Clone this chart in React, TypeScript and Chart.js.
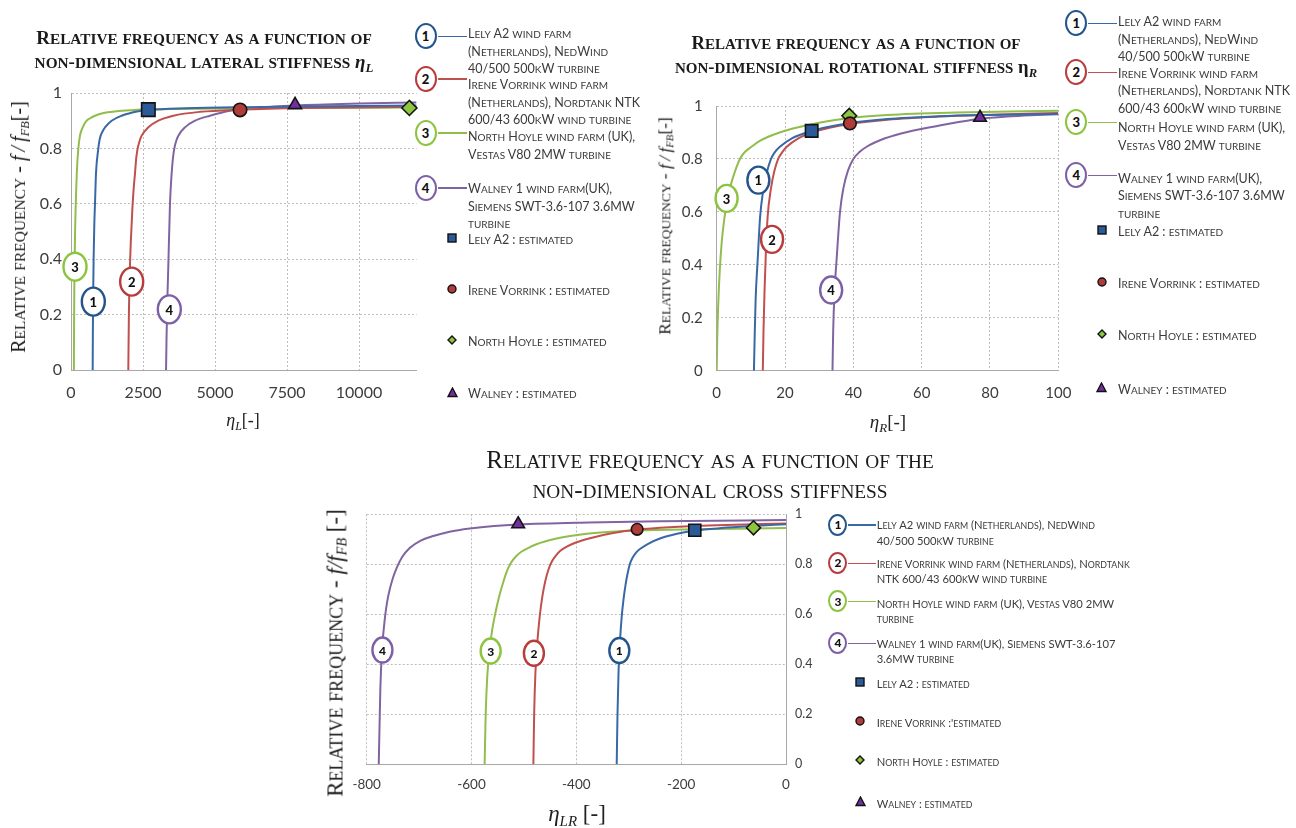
import React, { useEffect, useRef } from "react";
import { Chart, registerables } from "chart.js";

Chart.register(...registerables);

type Pt = [number, number];

/* ===================== DATA ===================== */
// Series order: 1 Lely A2, 2 Irene Vorrink, 3 North Hoyle, 4 Walney

// ---- Lateral stiffness ηL ----
const LAT_LELY: Pt[] = [[753, 0], [758, 0.12], [768, 0.25], [785, 0.4], [808, 0.52], [833, 0.6], [868, 0.71], [949, 0.8], [985, 0.826], [1030, 0.846], [1100, 0.862], [1181, 0.876], [1412, 0.9], [1759, 0.918], [2338, 0.934], [2700, 0.939], [4000, 0.945], [6000, 0.949], [9000, 0.952], [12000, 0.955]];
const LAT_IRENE: Pt[] = [[1990, 0], [2010, 0.2], [2040, 0.35], [2080, 0.47], [2130, 0.58], [2180, 0.66], [2222, 0.71], [2265, 0.765], [2315, 0.8], [2380, 0.826], [2453, 0.846], [2685, 0.876], [3032, 0.9], [3553, 0.918], [4479, 0.932], [5900, 0.94], [8000, 0.946], [12000, 0.95]];
const LAT_NORTH: Pt[] = [[100, 0], [106, 0.15], [115, 0.29], [127, 0.4], [142, 0.5], [160, 0.58], [180, 0.65], [205, 0.72], [255, 0.8], [312, 0.846], [405, 0.876], [544, 0.9], [650, 0.908], [833, 0.918], [1100, 0.927], [1586, 0.934], [2100, 0.938], [2700, 0.941], [6000, 0.945], [12000, 0.948]];
const LAT_WALNEY: Pt[] = [[3300, 0], [3318, 0.12], [3345, 0.25], [3380, 0.38], [3437, 0.6], [3495, 0.71], [3540, 0.765], [3588, 0.8], [3650, 0.826], [3727, 0.846], [3958, 0.876], [4306, 0.9], [4826, 0.918], [5521, 0.936], [6500, 0.947], [7780, 0.955], [10000, 0.962], [12000, 0.966]];
const LAT_ESTIMATED: Pt[] = [[2685, 0.94], [5870, 0.939], [11750, 0.946], [7780, 0.957]];
const LAT_RINGS: Pt[] = [[775, 0.247], [2107, 0.319], [139, 0.373], [3414, 0.219]];
const LAT_X_RANGE = [0, 12000];
const LAT_X_TICKS = [0, 2500, 5000, 7500, 10000];

// ---- Rotational stiffness ηR ----
const ROT_LELY: Pt[] = [[10.9, 0], [11.1, 0.12], [11.4, 0.27], [12, 0.42], [12.7, 0.58], [13.6, 0.68], [14.6, 0.745], [15.9, 0.8], [17.1, 0.827], [18.5, 0.846], [22, 0.878], [27.8, 0.906], [32.5, 0.921], [38.5, 0.935], [50, 0.951], [65, 0.961], [80, 0.966], [100, 0.97]];
const ROT_IRENE: Pt[] = [[13.5, 0], [13.7, 0.15], [14, 0.3], [14.4, 0.45], [14.9, 0.58], [15.9, 0.69], [16.9, 0.755], [18, 0.8], [19.2, 0.826], [20.5, 0.846], [23.9, 0.878], [28.3, 0.902], [33, 0.918], [39, 0.932], [50, 0.948], [65, 0.96], [80, 0.967], [100, 0.974]];
const ROT_NORTH: Pt[] = [[0, 0], [0.15, 0.12], [0.45, 0.25], [0.9, 0.38], [1.5, 0.49], [2.3, 0.58], [3.2, 0.65], [4.2, 0.705], [5.4, 0.755], [6.8, 0.8], [8.3, 0.827], [10.2, 0.846], [12.5, 0.867], [15.1, 0.884], [22, 0.914], [30, 0.937], [38.8, 0.955], [50, 0.966], [70, 0.975], [100, 0.982]];
const ROT_WALNEY: Pt[] = [[33.9, 0], [34.1, 0.15], [34.5, 0.3], [35.1, 0.42], [36.1, 0.6], [37.1, 0.69], [38.4, 0.755], [40, 0.8], [41.8, 0.826], [43.9, 0.846], [49.3, 0.878], [56.1, 0.903], [66, 0.928], [77.1, 0.952], [85, 0.96], [92, 0.965], [100, 0.969]];
const ROT_ESTIMATED: Pt[] = [[27.8, 0.906], [39, 0.934], [38.8, 0.963], [77.1, 0.956]];
const ROT_RINGS: Pt[] = [[12.2, 0.72], [16.2, 0.496], [2.9, 0.651], [33.5, 0.305]];
const ROT_X_RANGE = [0, 100];
const ROT_X_TICKS = [0, 20, 40, 60, 80, 100];

// ---- Cross stiffness ηLR ----
const CROSS_LELY: Pt[] = [[-323, 0], [-321.5, 0.2], [-319.5, 0.37], [-316.5, 0.5], [-313.5, 0.59], [-310, 0.66], [-306, 0.72], [-302, 0.765], [-298, 0.8], [-293, 0.825], [-286, 0.847], [-278, 0.862], [-263, 0.882], [-238, 0.905], [-208, 0.922], [-174, 0.935], [-123, 0.945], [-63, 0.953], [0, 0.96]];
const CROSS_IRENE: Pt[] = [[-482, 0], [-480.5, 0.2], [-478, 0.37], [-474, 0.5], [-470, 0.59], [-465, 0.67], [-459, 0.735], [-453, 0.78], [-447, 0.81], [-439, 0.835], [-430, 0.855], [-419, 0.87], [-402, 0.886], [-372, 0.905], [-330, 0.925], [-284, 0.938], [-222, 0.948], [-132, 0.956], [0, 0.963]];
const CROSS_NORTH: Pt[] = [[-575, 0], [-573, 0.2], [-570, 0.35], [-565, 0.47], [-560, 0.545], [-555, 0.6], [-548, 0.665], [-540, 0.725], [-533, 0.77], [-525, 0.805], [-515, 0.832], [-505, 0.85], [-495, 0.862], [-475, 0.881], [-444, 0.9], [-415, 0.912], [-380, 0.922], [-335, 0.93], [-285, 0.935], [-175, 0.94], [0, 0.945]];
const CROSS_WALNEY: Pt[] = [[-777, 0], [-774, 0.3], [-771, 0.45], [-765, 0.59], [-761, 0.65], [-756, 0.7], [-750, 0.745], [-743, 0.785], [-732, 0.83], [-718, 0.865], [-697, 0.895], [-673, 0.913], [-642, 0.93], [-603, 0.943], [-557, 0.953], [-511, 0.959], [-377, 0.967], [-240, 0.972], [0, 0.977]];
const CROSS_ESTIMATED: Pt[] = [[-174, 0.936], [-284, 0.94], [-62, 0.946], [-511, 0.961]];
const CROSS_RINGS: Pt[] = [[-318, 0.455], [-481, 0.444], [-563.5, 0.453], [-770, 0.457]];
const CROSS_X_RANGE = [-800, 0];
const CROSS_X_TICKS = [-800, -600, -400, -200, 0];

const Y_RANGE = [0, 1];
const Y_TICKS = [0, 0.2, 0.4, 0.6, 0.8, 1];

// ---- Legend texts ----
const LEGEND_NARROW: string[][] = [
  ["Lely A2 wind farm", "(Netherlands), NedWind", "40/500 500kW turbine"],
  ["Irene Vorrink wind farm", "(Netherlands), Nordtank NTK", "600/43 600kW wind turbine"],
  ["North Hoyle wind farm (UK),", "Vestas V80 2MW turbine"],
  ["Walney 1 wind farm(UK),", "Siemens SWT-3.6-107 3.6MW", "turbine"],
];
const LEGEND_WIDE: string[][] = [
  ["Lely A2 wind farm (Netherlands), NedWind", "40/500 500kW turbine"],
  ["Irene Vorrink wind farm (Netherlands), Nordtank", "NTK 600/43 600kW wind turbine"],
  ["North Hoyle wind farm (UK), Vestas V80 2MW", "turbine"],
  ["Walney 1 wind farm(UK), Siemens SWT-3.6-107", "3.6MW turbine"],
];
const EST_TEXTS = ["Lely A2 : estimated", "Irene Vorrink : estimated", "North Hoyle : estimated", "Walney : estimated"];
const EST_TEXTS_CROSS = ["Lely A2 : estimated", "Irene Vorrink :'estimated", "North Hoyle : estimated", "Walney : estimated"];

/* ===================== STYLE ===================== */
const W = 1296;
const H = 828;
const LINE_COLORS = ["#3868a6", "#c0504d", "#91bd4c", "#8064a2"];
const RING_COLORS = ["#24548c", "#b83c3c", "#8cc43f", "#7d5fa8"];
const MARKER_FILL = ["#2b5a98", "#b03c3a", "#8dc63f", "#7030a0"];
const MARKER_STYLE = ["rect", "circle", "rectRot", "triangle"];
const GRID = "#bdbdbd";
const AXIS = "#a8a8a8";
const TICK_COLOR = "#3c3c3c";
const SANS = "Lato, 'Open Sans', sans-serif";
const SERIF = "'Liberation Serif', 'Times New Roman', serif";

interface Spec {
  curves: Pt[][];
  est: Pt[];
  rings: Pt[];
  xRange: number[];
  xTicks: number[];
  rect: { l: number; t: number; r: number; b: number };
  yRight: boolean;
  xFont: number;
  yFont: number;
  xLabelY: number;
  yGap: number;
  markerR: number[];
  ringRx: number;
  ringRy: number;
  ringFont: number;
}

const LAT_SPEC: Spec = {
  curves: [LAT_LELY, LAT_IRENE, LAT_NORTH, LAT_WALNEY],
  est: LAT_ESTIMATED,
  rings: LAT_RINGS,
  xRange: LAT_X_RANGE,
  xTicks: LAT_X_TICKS,
  rect: { l: 71, t: 93, r: 416.6, b: 370 },
  yRight: false,
  xFont: 16,
  yFont: 16,
  xLabelY: 393,
  yGap: 9,
  markerR: [9.5, 6.7, 7.5, 7.5],
  ringRx: 11.5,
  ringRy: 14,
  ringFont: 13,
};
const ROT_SPEC: Spec = {
  curves: [ROT_LELY, ROT_IRENE, ROT_NORTH, ROT_WALNEY],
  est: ROT_ESTIMATED,
  rings: ROT_RINGS,
  xRange: ROT_X_RANGE,
  xTicks: ROT_X_TICKS,
  rect: { l: 716.7, t: 106, r: 1058.3, b: 370.7 },
  yRight: false,
  xFont: 15,
  yFont: 15,
  xLabelY: 393,
  yGap: 14,
  markerR: [8.8, 6.3, 7.3, 7.3],
  ringRx: 11,
  ringRy: 13.5,
  ringFont: 13,
};
const CROSS_SPEC: Spec = {
  curves: [CROSS_LELY, CROSS_IRENE, CROSS_NORTH, CROSS_WALNEY],
  est: CROSS_ESTIMATED,
  rings: CROSS_RINGS,
  xRange: CROSS_X_RANGE,
  xTicks: CROSS_X_TICKS,
  rect: { l: 366.7, t: 514.3, r: 786, b: 764.3 },
  yRight: true,
  xFont: 13.5,
  yFont: 12.5,
  xLabelY: 785,
  yGap: 9,
  markerR: [8.5, 5.8, 7, 7.3],
  ringRx: 10,
  ringRy: 12.5,
  ringFont: 12,
};

/* ===================== CHART ===================== */
function ChartCanvas({ spec }: { spec: Spec }) {
  const ref = useRef<HTMLCanvasElement>(null);
  useEffect(() => {
    const s = spec;
    const yW = 60;
    const xH = 40;
    const xLH = s.xFont * 1.2;
    const padding = s.yRight
      ? { left: s.rect.l, top: s.rect.t, right: W - s.rect.r - yW, bottom: H - s.rect.b - xH }
      : { left: s.rect.l - yW, top: s.rect.t, right: W - s.rect.r, bottom: H - s.rect.b - xH };

    const datasets: any[] = [];
    s.est.forEach((p, i) =>
      datasets.push({
        data: [{ x: p[0], y: p[1] }],
        showLine: false,
        pointStyle: MARKER_STYLE[i],
        pointRadius: s.markerR[i],
        pointBackgroundColor: MARKER_FILL[i],
        pointBorderColor: "#141414",
        pointBorderWidth: 1.6,
        clip: false,
      })
    );
    s.curves.forEach((c, i) =>
      datasets.push({
        data: c.map((p) => ({ x: p[0], y: p[1] })),
        showLine: true,
        pointRadius: 0,
        borderColor: LINE_COLORS[i],
        borderWidth: 2,
        cubicInterpolationMode: "monotone",
        fill: false,
      })
    );

    const ringPlugin = {
      id: "rings",
      afterDatasetsDraw(chart: any) {
        const { ctx } = chart;
        const xs = chart.scales.x;
        const ys = chart.scales.y;
        s.rings.forEach((p, i) => {
          const px = xs.getPixelForValue(p[0]);
          const py = ys.getPixelForValue(p[1]);
          ctx.save();
          ctx.beginPath();
          ctx.ellipse(px, py, s.ringRx, s.ringRy, 0, 0, Math.PI * 2);
          ctx.fillStyle = "#ffffff";
          ctx.fill();
          ctx.lineWidth = 2.4;
          ctx.strokeStyle = RING_COLORS[i];
          ctx.stroke();
          ctx.fillStyle = "#111";
          ctx.font = `900 ${s.ringFont}px Lato`;
          ctx.textAlign = "center";
          ctx.textBaseline = "middle";
          ctx.fillText(String(i + 1), px, py + 1);
          ctx.restore();
        });
      },
    };

    const chart = new Chart(ref.current as HTMLCanvasElement, {
      type: "scatter",
      data: { datasets },
      options: {
        animation: false,
        responsive: false,
        events: [],
        layout: { padding },
        plugins: { legend: { display: false }, tooltip: { enabled: false }, title: { display: false } },
        scales: {
          x: {
            type: "linear",
            min: s.xRange[0],
            max: s.xRange[1],
            afterFit: (sc: any) => {
              sc.height = xH;
            },
            afterBuildTicks: (sc: any) => {
              sc.ticks = s.xTicks.map((v) => ({ value: v }));
            },
            ticks: {
              autoSkip: false,
              maxRotation: 0,
              padding: s.xLabelY - s.rect.b - xLH / 2,
              color: TICK_COLOR,
              font: { family: SANS, size: s.xFont },
              callback: (v: any) => String(v),
            },
            grid: { color: GRID, lineWidth: 1, drawTicks: false },
            border: { display: true, color: AXIS, width: 1, dash: [2, 2] },
          },
          y: {
            type: "linear",
            position: s.yRight ? "right" : "left",
            min: Y_RANGE[0],
            max: Y_RANGE[1],
            afterFit: (sc: any) => {
              sc.width = yW;
            },
            afterBuildTicks: (sc: any) => {
              sc.ticks = Y_TICKS.map((v) => ({ value: v }));
            },
            ticks: {
              autoSkip: false,
              padding: s.yGap,
              color: TICK_COLOR,
              font: { family: SANS, size: s.yFont },
              callback: (v: any) => String(Math.round(Number(v) * 10) / 10),
            },
            grid: { color: GRID, lineWidth: 1, drawTicks: false },
            border: { display: true, color: AXIS, width: 1, dash: [2, 2] },
          },
        },
      } as any,
      plugins: [ringPlugin as any],
    });
    return () => chart.destroy();
  }, [spec]);
  return <canvas ref={ref} width={W} height={H} style={{ position: "absolute", left: 0, top: 0, width: W, height: H }} />;
}

/* ===================== TEXT HELPERS ===================== */
function SC({ t, big, small }: { t: string; big: number; small: number }) {
  const parts: [string, boolean][] = [];
  for (const ch of t) {
    const low = ch !== ch.toUpperCase();
    if (parts.length && parts[parts.length - 1][1] === low) parts[parts.length - 1][0] += ch;
    else parts.push([ch, low]);
  }
  return (
    <>
      {parts.map(([str, low], i) => (
        <span key={i} style={{ fontSize: low ? small : big }}>
          {low ? str.toUpperCase() : str}
        </span>
      ))}
    </>
  );
}

function At({ x, y, children, style, rot }: { x: number; y: number; children: any; style?: any; rot?: boolean }) {
  return (
    <div
      style={{
        position: "absolute",
        left: x,
        top: y,
        transform: rot ? "translate(-50%,-50%) rotate(-90deg)" : "translate(-50%,-50%)",
        whiteSpace: "nowrap",
        lineHeight: 1,
        ...style,
      }}
    >
      {children}
    </div>
  );
}

function Left({ x, y, children, style }: { x: number; y: number; children: any; style?: any }) {
  return (
    <div style={{ position: "absolute", left: x, top: y, transform: "translateY(-50%)", whiteSpace: "nowrap", lineHeight: 1, ...style }}>
      {children}
    </div>
  );
}

function Sub({ children, size }: { children: any; size: string }) {
  return <span style={{ fontSize: size, position: "relative", top: "0.3em" }}>{children}</span>;
}

function YTitle({ x, y, big, small, tight }: { x: number; y: number; big: number; small: number; tight?: boolean }) {
  return (
    <At x={x} y={y} rot style={{ fontFamily: SERIF, color: "#1a1a1a", fontSize: big }}>
      <SC t="Relative frequency" big={big} small={small} />
      <span> - </span>
      {tight ? (
        <i>f/f</i>
      ) : (
        <i>
          f{"\u2009"}/{"\u2009"}f
        </i>
      )}
      <Sub size="0.62em">
        <i>FB</i>
      </Sub>
      <span>{tight ? " [-]" : "[-]"}</span>
    </At>
  );
}

interface LegendLayout {
  ringX: number;
  ringYs: number[];
  rx: number;
  ry: number;
  textX: number;
  firstYs: number[];
  lh: number;
  big: number;
  small: number;
  blocks: string[][];
  markX: number;
  markYs: number[];
  markTexts: string[];
  ringFont: number;
}

function Marker({ i, size }: { i: number; size: number }) {
  const s = size;
  const c = MARKER_FILL[i];
  let shape: any;
  if (i === 0) shape = <rect x={1} y={1} width={s - 2} height={s - 2} fill={c} stroke="#111" strokeWidth={1.4} />;
  else if (i === 1) shape = <circle cx={s / 2} cy={s / 2} r={s / 2 - 1} fill={c} stroke="#111" strokeWidth={1.4} />;
  else if (i === 2) shape = <polygon points={`${s / 2},1 ${s - 1},${s / 2} ${s / 2},${s - 1} 1,${s / 2}`} fill={c} stroke="#111" strokeWidth={1.4} />;
  else shape = <polygon points={`${s / 2},1 ${s - 1},${s - 1.5} 1,${s - 1.5}`} fill={c} stroke="#111" strokeWidth={1.4} />;
  return (
    <svg width={s} height={s} style={{ display: "block" }}>
      {shape}
    </svg>
  );
}

function Legend({ L }: { L: LegendLayout }) {
  const items: any[] = [];
  L.blocks.forEach((lines, i) => {
    const ry = L.ringYs[i];
    items.push(
      <div
        key={"l" + i}
        style={{ position: "absolute", left: L.ringX + L.rx, top: ry - 0.6, width: L.textX - 1 - (L.ringX + L.rx), height: 1.3, background: LINE_COLORS[i] }}
      />
    );
    items.push(
      <div
        key={"r" + i}
        style={{
          position: "absolute",
          left: L.ringX - L.rx,
          top: ry - L.ry,
          width: L.rx * 2 - 4.8,
          height: L.ry * 2 - 4.8,
          border: `2.4px solid ${RING_COLORS[i]}`,
          borderRadius: "50%",
          background: "#fff",
          display: "flex",
          alignItems: "center",
          justifyContent: "center",
          fontFamily: SANS,
          fontWeight: 900,
          fontSize: L.ringFont,
          color: "#111",
        }}
      >
        {i + 1}
      </div>
    );
    lines.forEach((ln, j) =>
      items.push(
        <Left key={"t" + i + "_" + j} x={L.textX} y={L.firstYs[i] + j * L.lh} style={{ fontFamily: SANS, color: "#3a3a3a" }}>
          <SC t={ln} big={L.big} small={L.small} />
        </Left>
      )
    );
  });
  L.markTexts.forEach((t, i) => {
    const ms = i === 3 ? 11 : 10;
    items.push(
      <div key={"m" + i} style={{ position: "absolute", left: L.markX - ms / 2, top: L.markYs[i] - ms / 2 }}>
        <Marker i={i} size={ms} />
      </div>
    );
    items.push(
      <Left key={"mt" + i} x={L.textX} y={L.markYs[i]} style={{ fontFamily: SANS, color: "#3a3a3a" }}>
        <SC t={t} big={L.big} small={L.small} />
      </Left>
    );
  });
  return <>{items}</>;
}

const LAT_LEGEND: LegendLayout = {
  ringX: 426,
  ringYs: [36.7, 79, 133, 188],
  rx: 11.5,
  ry: 13.5,
  textX: 468,
  firstYs: [32, 83, 135, 187],
  lh: 17.6,
  big: 12.5,
  small: 10,
  blocks: LEGEND_NARROW,
  markX: 452,
  markYs: [238, 289, 340, 392],
  markTexts: EST_TEXTS,
  ringFont: 13,
};
const ROT_LEGEND: LegendLayout = {
  ringX: 1076.7,
  ringYs: [23.3, 72.3, 122.7, 175.7],
  rx: 11.5,
  ry: 13.5,
  textX: 1118,
  firstYs: [20, 71.7, 126, 176.7],
  lh: 17.6,
  big: 12.5,
  small: 10,
  blocks: LEGEND_NARROW,
  markX: 1101.7,
  markYs: [230, 282, 334, 387.7],
  markTexts: EST_TEXTS,
  ringFont: 13,
};
const CROSS_LEGEND: LegendLayout = {
  ringX: 838.3,
  ringYs: [525, 563.3, 601.7, 643.3],
  rx: 10,
  ry: 11.5,
  textX: 876.7,
  firstYs: [523.3, 561.7, 601.7, 641.7],
  lh: 15.4,
  big: 11.2,
  small: 8.8,
  blocks: LEGEND_WIDE,
  markX: 860,
  markYs: [681.7, 721, 760, 801.7],
  markTexts: EST_TEXTS_CROSS,
  ringFont: 12,
};

/* ===================== APP ===================== */
export default function App() {
  const boldTitle = { fontFamily: SERIF, fontWeight: 700, color: "#1a1a1a" };
  return (
    <div style={{ position: "absolute", left: 0, top: 0, width: W, height: H, background: "#fff", overflow: "hidden" }}>
      <ChartCanvas spec={LAT_SPEC} />
      <ChartCanvas spec={ROT_SPEC} />
      <ChartCanvas spec={CROSS_SPEC} />

      {/* Chart 1 titles */}
      <At x={204} y={37} style={boldTitle}>
        <SC t="Relative  frequency as a function of" big={19} small={15.3} />
      </At>
      <At x={204} y={61} style={boldTitle}>
        <SC t="non-dimensional lateral  stiffness " big={19} small={15.3} />
        <i style={{ fontSize: 19 }}>η</i>
        <Sub size="13px">
          <i>L</i>
        </Sub>
      </At>
      <YTitle x={18} y={227} big={20} small={15.5} />
      <At x={243} y={420} style={{ fontFamily: SERIF, fontSize: 18, color: "#222" }}>
        <i>η</i>
        <Sub size="12px">
          <i>L</i>
        </Sub>
        [-]
      </At>

      {/* Chart 2 titles */}
      <At x={856} y={43} style={boldTitle}>
        <SC t="Relative  frequency as a function of" big={18.6} small={15} />
      </At>
      <At x={856} y={67} style={boldTitle}>
        <SC t="non-dimensional rotational  stiffness " big={18.6} small={15} />
        <span style={{ fontSize: 18.6 }}>η</span>
        <Sub size="12.5px">
          <i>R</i>
        </Sub>
      </At>
      <YTitle x={665} y={226} big={17.3} small={13.4} />
      <At x={888} y={421} style={{ fontFamily: SERIF, fontSize: 19, color: "#222" }}>
        <i>η</i>
        <Sub size="13px">
          <i>R</i>
        </Sub>
        [-]
      </At>

      {/* Chart 3 titles */}
      <At x={710} y={459} style={{ fontFamily: SERIF, color: "#1a1a1a" }}>
        <SC t="Relative  frequency  as  a  function  of  the" big={25} small={19.3} />
      </At>
      <At x={710} y={489} style={{ fontFamily: SERIF, color: "#1a1a1a" }}>
        <SC t="non-dimensional  cross  stiffness" big={25} small={19.3} />
      </At>
      <YTitle x={335} y={653} big={23} small={18} tight />
      <At x={577} y={813} style={{ fontFamily: SERIF, fontSize: 23, color: "#222" }}>
        <i>η</i>
        <Sub size="15px">
          <i>LR</i>
        </Sub>
        {" [-]"}
      </At>

      <Legend L={LAT_LEGEND} />
      <Legend L={ROT_LEGEND} />
      <Legend L={CROSS_LEGEND} />
    </div>
  );
}
